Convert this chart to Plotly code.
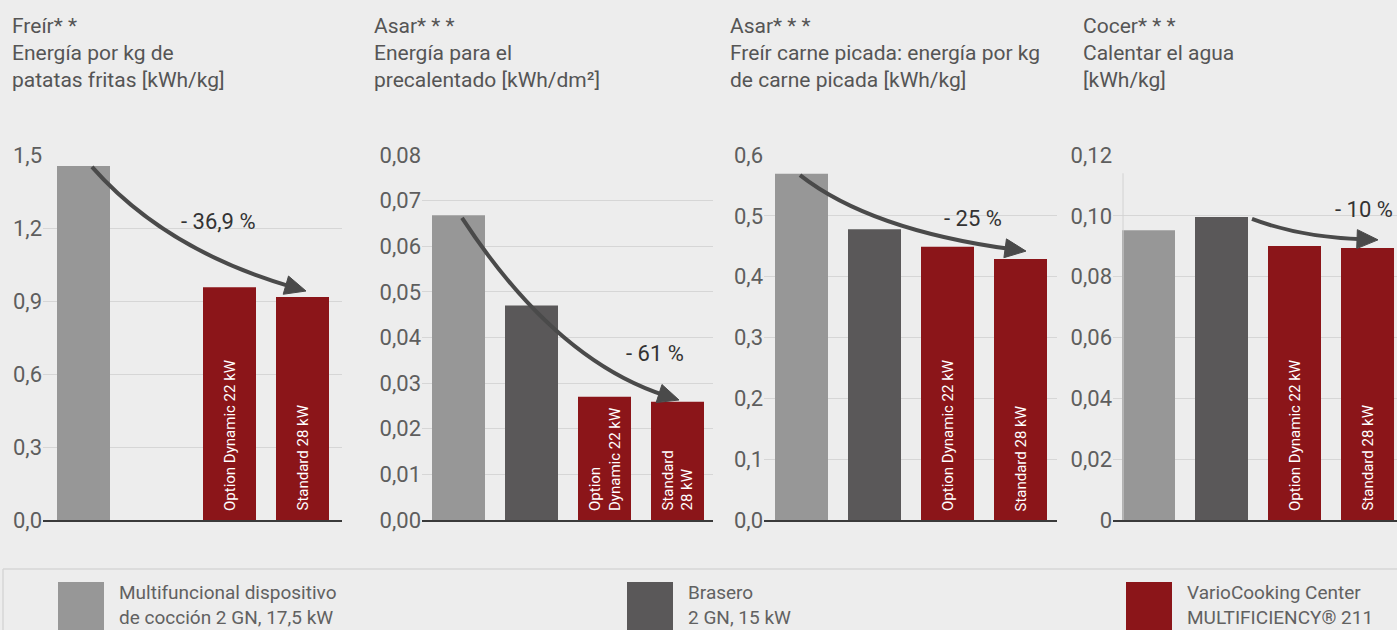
import math
import plotly.graph_objects as go

W, H = 1397, 630

# ---------------- data ----------------
categories = [
    "Multifuncional dispositivo de cocción",
    "Brasero",
    "VarioCooking Center Option Dynamic 22 kW",
    "VarioCooking Center Standard 28 kW",
]
fry_values = [1.455, None, 0.957, 0.916]
preheat_values = [0.0668, 0.047, 0.027, 0.0259]
mince_values = [0.569, 0.478, 0.449, 0.429]
water_values = [0.0953, 0.0996, 0.0901, 0.0894]

fry_ticks = [0, 0.3, 0.6, 0.9, 1.2, 1.5]
fry_ticktext = ["0,0", "0,3", "0,6", "0,9", "1,2", "1,5"]
preheat_ticks = [0, 0.01, 0.02, 0.03, 0.04, 0.05, 0.06, 0.07, 0.08]
preheat_ticktext = ["0,00", "0,01", "0,02", "0,03", "0,04", "0,05", "0,06", "0,07", "0,08"]
mince_ticks = [0, 0.1, 0.2, 0.3, 0.4, 0.5, 0.6]
mince_ticktext = ["0,0", "0,1", "0,2", "0,3", "0,4", "0,5", "0,6"]
water_ticks = [0, 0.02, 0.04, 0.06, 0.08, 0.10, 0.12]
water_ticktext = ["0", "0,02", "0,04", "0,06", "0,08", "0,10", "0,12"]

titles = [
    ["Freír* *", "Energía por kg de", "patatas fritas [kWh/kg]"],
    ["Asar* * *", "Energía para el", "precalentado [kWh/dm²]"],
    ["Asar* * *", "Freír carne picada: energía por kg", "de carne picada [kWh/kg]"],
    ["Cocer* * *", "Calentar el agua", "[kWh/kg]"],
]
reductions = ["- 36,9 %", "- 61 %", "- 25 %", "- 10 %"]
inner_labels_one = ["", "", "Option Dynamic 22 kW", "Standard 28 kW"]
inner_labels_two = ["", "", "Option<br>Dynamic 22 kW", "Standard<br>28 kW"]
legend_lines = [
    ["Multifuncional dispositivo", "de cocción 2 GN, 17,5 kW"],
    ["Brasero", "2 GN, 15 kW"],
    ["VarioCooking Center", "MULTIFICIENCY® 211"],
]

# ---------------- style / layout ----------------
BG = "#ededed"
C_GRAY = "#979797"
C_DARK = "#5a5859"
C_RED = "#8b1519"
bar_colors = [C_GRAY, C_DARK, C_RED, C_RED]
legend_colors = [C_GRAY, C_DARK, C_RED]
ARROW = "#4a4a4a"
FONT = "Roboto"

STEP = 73.0          # px between bar centres
BAR_W = 53.0 / STEP  # bar width in category units
BASE_PX, TOP_PX = 520.0, 155.0

panels = [
    dict(values=fry_values, ticks=fry_ticks, ticktext=fry_ticktext, ymax=1.5,
         L=43, R=342, c0=83.5, title_x=10, inner=inner_labels_one,
         start=(0.116, 1.451), ctrl=(1.116, 1.110), tip=(3.048, 0.941), lab=(1.845, 1.225)),
    dict(values=preheat_values, ticks=preheat_ticks, ticktext=preheat_ticktext, ymax=0.08,
         L=422, R=713, c0=458.5, title_x=372, inner=inner_labels_two,
         start=(0.048, 0.0662), ctrl=(1.322, 0.0351), tip=(3.021, 0.0263), lab=(2.692, 0.0364)),
    dict(values=mince_values, ticks=mince_ticks, ticktext=mince_ticktext, ymax=0.6,
         L=764, R=1057, c0=801.5, title_x=728, inner=inner_labels_one,
         start=(-0.021, 0.567), ctrl=(0.938, 0.477), tip=(3.075, 0.442), lab=(2.349, 0.496)),
    dict(values=water_values, ticks=water_ticks, ticktext=water_ticktext, ymax=0.12,
         L=1113, R=1397, c0=1148.5, title_x=1081, inner=inner_labels_one,
         start=(1.418, 0.0990), ctrl=(2.075, 0.0930), tip=(3.144, 0.0921), lab=(2.952, 0.1022)),
]

fig = go.Figure()
shapes = []
annotations = []
layout = dict(
    width=W, height=H, autosize=False,
    margin=dict(l=0, r=0, t=0, b=0, pad=0, autoexpand=False),
    paper_bgcolor=BG, plot_bgcolor=BG, showlegend=False,
    font=dict(family=FONT, color="#555555"),
)

for i, p in enumerate(panels):
    n = "" if i == 0 else str(i + 1)
    xa, ya = "x" + n, "y" + n
    xr = [(p["L"] - p["c0"]) / STEP, (p["R"] - p["c0"]) / STEP]
    ymax = p["ymax"]

    def to_px(x, y, p=p):
        return (p["c0"] + x * STEP, BASE_PX - y / p["ymax"] * (BASE_PX - TOP_PX))

    def to_data(px, py, p=p):
        return ((px - p["c0"]) / STEP, (BASE_PX - py) / (BASE_PX - TOP_PX) * p["ymax"])

    fig.add_trace(go.Bar(
        x=list(range(len(categories))), y=p["values"], width=BAR_W,
        marker=dict(color=bar_colors, line=dict(width=0)),
        xaxis=xa, yaxis=ya, hovertext=categories,
    ))

    layout["xaxis" + n] = dict(
        domain=[p["L"] / W, p["R"] / W], range=xr, anchor=ya, automargin=False,
        showticklabels=False, showgrid=False, zeroline=False,
        showline=True, linecolor="#3a3a3a", linewidth=1.5, ticks="", fixedrange=True,
    )
    layout["yaxis" + n] = dict(
        domain=[1 - BASE_PX / H, 1 - TOP_PX / H], range=[0, ymax], anchor=xa, automargin=False,
        tickvals=p["ticks"], ticktext=p["ticktext"], ticks="",
        tickfont=dict(family=FONT, size=22, color="#5e5e5e"),
        showgrid=True, gridcolor="#d6d6d6", gridwidth=1,
        zeroline=False, showline=False, fixedrange=True,
    )

    # titles
    for k, (line, yc) in enumerate(zip(titles[i], [26, 53, 80])):
        annotations.append(dict(
            xref="paper", yref="paper", x=p["title_x"] / W, y=1 - yc / H,
            xanchor="left", yanchor="middle", text=line, showarrow=False,
            font=dict(family=FONT, size=21, color="#555555"),
        ))

    # inner rotated labels
    for k, lbl in enumerate(p["inner"]):
        if lbl and p["values"][k] is not None:
            annotations.append(dict(
                xref=xa, yref=ya, x=k, y=0, yshift=7,
                xanchor="center", yanchor="bottom", textangle=-90, align="left",
                text=lbl, showarrow=False,
                font=dict(family=FONT, size=15, color="#ffffff"),
            ))

    # curved arrow
    P0 = to_px(*p["start"])
    C = to_px(*p["ctrl"])
    T = to_px(*p["tip"])
    dx, dy = T[0] - C[0], T[1] - C[1]
    ln = math.hypot(dx, dy)
    dx, dy = dx / ln, dy / ln
    nx, ny = -dy, dx
    E = (T[0] - 15 * dx, T[1] - 15 * dy)
    B = (T[0] - 21 * dx, T[1] - 21 * dy)
    B1 = (B[0] + 9.5 * nx, B[1] + 9.5 * ny)
    B2 = (B[0] - 9.5 * nx, B[1] - 9.5 * ny)

    def pt(q):
        d = to_data(*q)
        return f"{d[0]:.5f},{d[1]:.6f}"

    shapes.append(dict(
        type="path", xref=xa, yref=ya,
        path=f"M {pt(P0)} Q {pt(C)} {pt(E)}",
        line=dict(color=ARROW, width=4), fillcolor="rgba(0,0,0,0)",
    ))
    shapes.append(dict(
        type="path", xref=xa, yref=ya,
        path=f"M {pt(T)} L {pt(B1)} L {pt(B2)} Z",
        line=dict(color=ARROW, width=1), fillcolor=ARROW,
    ))
    annotations.append(dict(
        xref=xa, yref=ya, x=p["lab"][0], y=p["lab"][1],
        xanchor="center", yanchor="middle", text=reductions[i], showarrow=False,
        font=dict(family=FONT, size=22, color="#333333"),
    ))

# thin vertical guide in the last panel
shapes.append(dict(type="line", xref="x4", yref="y4", x0=-0.349, x1=-0.349, y0=0, y1=0.114,
                   line=dict(color="#d2d2d2", width=1)))

# legend box
shapes.append(dict(type="line", xref="paper", yref="paper", x0=3 / W, x1=1, y0=1 - 569 / H, y1=1 - 569 / H,
                   line=dict(color="#d6d6d6", width=1.5)))
shapes.append(dict(type="line", xref="paper", yref="paper", x0=3 / W, x1=3 / W, y0=0, y1=1 - 569 / H,
                   line=dict(color="#d6d6d6", width=1.5)))
legend_key_x = [58, 627, 1126]
for color, kx, lines in zip(legend_colors, legend_key_x, legend_lines):
    shapes.append(dict(type="rect", xref="paper", yref="paper",
                       x0=kx / W, x1=(kx + 46) / W, y0=0, y1=1 - 582 / H,
                       fillcolor=color, line=dict(width=0)))
    for line, yc in zip(lines, [592, 617]):
        annotations.append(dict(
            xref="paper", yref="paper", x=(kx + 59) / W, y=1 - yc / H,
            xanchor="left", yanchor="middle", text=line, showarrow=False,
            font=dict(family=FONT, size=19, color="#616161"),
        ))

layout["shapes"] = shapes
layout["annotations"] = annotations
fig.update_layout(**layout)
fig.write_html(
    "out.html",
    config={"displayModeBar": False},
    post_script="document.body.style.margin='0';document.body.style.overflow='hidden';document.body.style.background='#ededed';",
)
